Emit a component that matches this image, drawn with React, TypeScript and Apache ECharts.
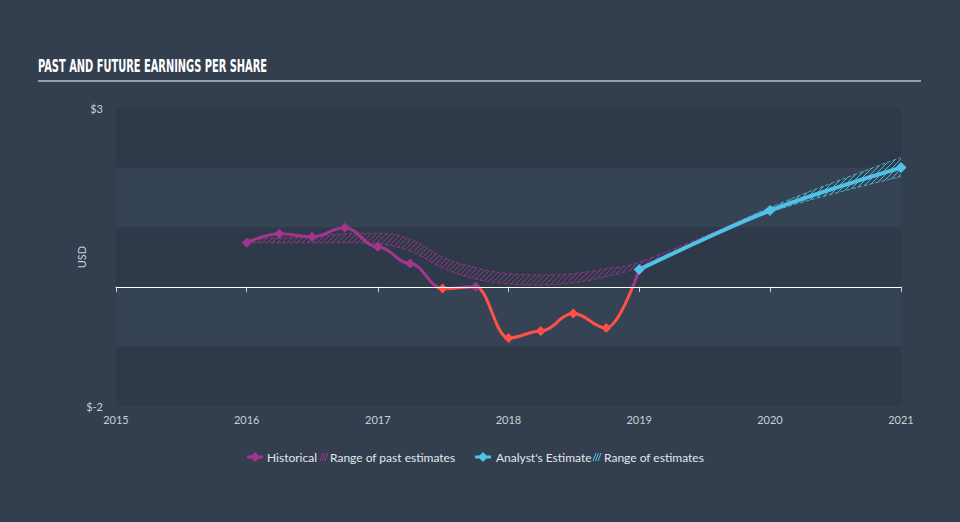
import React, { useEffect, useRef } from "react";
import * as echarts from "echarts";

const histDates = ["2016-01-01", "2016-04-01", "2016-07-01", "2016-10-01", "2017-01-01", "2017-04-01", "2017-07-01", "2017-10-01", "2018-01-01", "2018-04-01", "2018-07-01", "2018-10-01", "2019-01-01"];
const histEPS = [0.74, 0.89, 0.84, 0.99, 0.67, 0.39, -0.03, 0.0, -0.86, -0.74, -0.45, -0.69, 0.29];

const pastRangeDates = ["2016-01-01", "2016-04-01", "2016-07-01", "2016-10-01", "2017-01-01", "2017-04-01", "2017-07-01", "2017-10-01", "2018-01-01", "2018-04-01", "2018-07-01", "2018-10-01", "2019-01-01", "2020-01-01"];
const pastRangeLow = [0.74, 0.74, 0.74, 0.74, 0.72, 0.6, 0.32, 0.13, 0.05, 0.03, 0.07, 0.17, 0.33, 1.28];
const pastRangeHigh = [0.8, 0.82, 0.84, 0.89, 0.9, 0.8, 0.5, 0.32, 0.22, 0.2, 0.22, 0.3, 0.41, 1.33];

const estDates = ["2019-01-01", "2020-01-01", "2021-01-01"];
const estEPS = [0.29, 1.28, 2.0];
const estLow = [0.29, 1.25, 1.85];
const estHigh = [0.29, 1.33, 2.17];

const xMin = "2015-01-01";
const xMax = "2021-01-01";
const yTickLabels: Record<string, string> = { "3": "$3", "-2": "$-2" };

const PURPLE = "#a4358f";
const RED = "#ff5148";
const CYAN = "#4fc3e6";
const BG = "#333f4f";
const TXT = "#c9ced6";
const FONT = "Lato, 'Open Sans', sans-serif";
const YEAR = 365 * 24 * 3600 * 1000;

function hatch(color: string) {
  const c = document.createElement("canvas");
  c.width = 5;
  c.height = 5;
  const ctx = c.getContext("2d")!;
  ctx.strokeStyle = color;
  ctx.lineWidth = 1;
  ctx.beginPath();
  ctx.moveTo(0, 5);
  ctx.lineTo(5, 0);
  ctx.moveTo(-1, 1);
  ctx.lineTo(1, -1);
  ctx.moveTo(4, 6);
  ctx.lineTo(6, 4);
  ctx.stroke();
  return { image: c, repeat: "repeat" } as any;
}

function legendHatch(x: number, y: number, color: string) {
  const lines = [];
  for (let i = 0; i < 3; i++) {
    lines.push({
      type: "line",
      shape: { x1: x + i * 2.5, y1: y + 4, x2: x + i * 2.5 + 3, y2: y - 4 },
      style: { stroke: color, lineWidth: 1 },
    });
  }
  return lines;
}

function legendDiamond(cx: number, cy: number, color: string) {
  return [
    { type: "line", shape: { x1: cx - 8, y1: cy, x2: cx + 8, y2: cy }, style: { stroke: color, lineWidth: 3 } },
    {
      type: "polygon",
      shape: { points: [[cx, cy - 5], [cx + 5, cy], [cx, cy + 5], [cx - 5, cy]] },
      style: { fill: color },
    },
  ];
}

export default function App() {
  const ref = useRef<HTMLDivElement>(null);
  useEffect(() => {
    document.body.style.margin = "0";
    const chart = echarts.init(ref.current!, null, { renderer: "svg" });
    const pair = (xs: string[], ys: number[]) => xs.map((x, i) => [x, ys[i]]);
    const legY = 457;
    const legText = (x: number, t: string) => ({
      type: "text",
      x,
      y: legY,
      style: { text: t, fill: "#e3e6ea", font: `12px ${FONT}`, textVerticalAlign: "middle" },
    });
    const option: any = {
      animation: false,
      backgroundColor: BG,
      grid: { left: 116, right: 59, top: 108, bottom: 116 },
      xAxis: {
        type: "time",
        min: xMin,
        max: xMax,
        minInterval: YEAR,
        splitNumber: 6,
        axisLine: { lineStyle: { color: "#d3d8de", width: 1 } },
        axisTick: { show: true, length: 5, lineStyle: { color: "#d3d8de" } },
        splitLine: { show: false },
        axisLabel: {
          color: TXT,
          fontFamily: FONT,
          fontSize: 11,
          margin: 8,
          showMinLabel: true,
          showMaxLabel: true,
          formatter: (v: number) => String(new Date(v).getFullYear()),
        },
      },
      yAxis: {
        type: "value",
        min: -2,
        max: 3,
        interval: 1,
        name: "USD",
        nameLocation: "middle",
        nameRotate: 90,
        nameGap: 29,
        nameMoveOverlap: false,
        nameTextStyle: { color: TXT, fontFamily: FONT, fontSize: 11 },
        axisLine: { show: false },
        axisTick: { show: false },
        splitLine: { show: false },
        splitArea: { show: true, areaStyle: { color: ["#2e3a49", "#364354"] } },
        axisLabel: {
          color: TXT,
          fontFamily: FONT,
          fontSize: 11,
          margin: 13,
          formatter: (v: number) => yTickLabels[String(v)] || "",
        },
      },
      series: [
        {
          name: "pastLow",
          type: "line",
          stack: "past",
          smooth: 0.4,
          symbol: "none",
          data: pair(pastRangeDates, pastRangeLow),
          lineStyle: { color: PURPLE, width: 1, type: "dashed", opacity: 0.8 },
        },
        {
          name: "Range of past estimates",
          type: "line",
          stack: "past",
          smooth: 0.4,
          symbol: "none",
          data: pair(pastRangeDates, pastRangeHigh.map((h, i) => +(h - pastRangeLow[i]).toFixed(3))),
          lineStyle: { color: PURPLE, width: 1, type: "dashed", opacity: 0.8 },
          areaStyle: { color: hatch("rgba(164,53,143,0.85)"), opacity: 1 },
        },
        {
          name: "estLow",
          type: "line",
          stack: "fut",
          smooth: 0.3,
          symbol: "none",
          data: pair(estDates, estLow),
          lineStyle: { color: CYAN, width: 1, type: "dashed", opacity: 0.8 },
        },
        {
          name: "Range of estimates",
          type: "line",
          stack: "fut",
          smooth: 0.3,
          symbol: "none",
          data: pair(estDates, estHigh.map((h, i) => +(h - estLow[i]).toFixed(3))),
          lineStyle: { color: CYAN, width: 1, type: "dashed", opacity: 0.8 },
          areaStyle: { color: hatch("rgba(79,195,230,0.9)"), opacity: 1 },
        },
        {
          name: "Historical",
          type: "line",
          smooth: 0.4,
          smoothMonotone: "x",
          symbol: "diamond",
          symbolSize: 10,
          data: pair(histDates, histEPS),
          itemStyle: { color: (p: any) => (p.value[1] < 0 ? RED : PURPLE) },
          lineStyle: { width: 3, color: PURPLE },
        },
        {
          name: "Analyst's Estimate",
          type: "line",
          smooth: 0.3,
          symbol: "diamond",
          symbolSize: 11,
          data: pair(estDates, estEPS),
          itemStyle: { color: CYAN },
          lineStyle: { color: CYAN, width: 4 },
        },
      ],
      graphic: [
        {
          type: "text",
          x: 38,
          y: 57,
          scaleX: 0.61,
          style: {
            text: "PAST AND FUTURE EARNINGS PER SHARE",
            fill: "#ffffff",
            font: "bold 18px 'DejaVu Sans Condensed', 'DejaVu Sans', sans-serif",
          },
        },
        {
          type: "line",
          shape: { x1: 38, y1: 81, x2: 921, y2: 81 },
          style: { stroke: "#b4bcc6", lineWidth: 1.5 },
        },
        ...legendDiamond(255, legY, PURPLE),
        legText(267, "Historical"),
        ...legendHatch(320, legY, PURPLE),
        legText(330, "Range of past estimates"),
        ...legendDiamond(483, legY, CYAN),
        legText(496, "Analyst's Estimate"),
        ...legendHatch(593, legY, CYAN),
        legText(604, "Range of estimates"),
      ],
    };
    chart.setOption(option);
    // split colour of the historical line at zero and the zero line, both placed via the axis scale
    const zeroY = chart.convertToPixel({ yAxisIndex: 0 }, 0) as number;
    const topY = chart.convertToPixel({ yAxisIndex: 0 }, 3) as number;
    const botY = chart.convertToPixel({ yAxisIndex: 0 }, -2) as number;
    const f = (zeroY - topY) / (botY - topY);
    const grad = new echarts.graphic.LinearGradient(0, topY, 0, botY, [
      { offset: 0, color: PURPLE },
      { offset: f, color: PURPLE },
      { offset: f, color: RED },
      { offset: 1, color: RED },
    ], true);
    chart.setOption({
      series: [{}, {}, {}, {}, { lineStyle: { color: grad } }, {
        markLine: {
          silent: true,
          symbol: "none",
          label: { show: false },
          lineStyle: { color: "#ffffff", width: 1, type: "solid" },
          data: [{ yAxis: 0 }],
        },
      }],
    });
    return () => chart.dispose();
  }, []);
  return <div ref={ref} style={{ position: "absolute", left: 0, top: 0, width: 960, height: 522 }} />;
}
